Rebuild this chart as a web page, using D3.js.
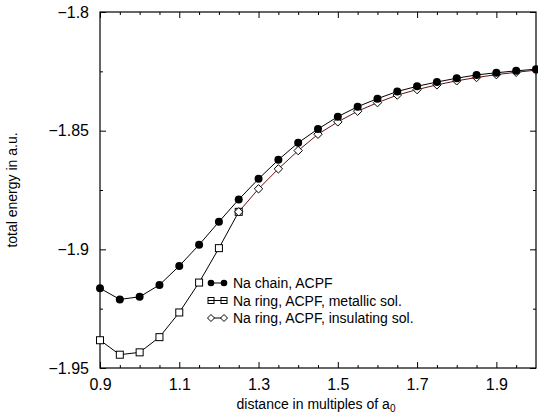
<!DOCTYPE html>
<html><head><meta charset="utf-8">
<script src="https://cdn.jsdelivr.net/npm/d3@7"></script>
<style>body{margin:0;background:#fff}svg{display:block;font-family:"Liberation Sans",Arial,sans-serif}</style>
</head><body><svg id="c" width="538" height="416"></svg>
<script>
const distances = [0.9,0.95,1.0,1.05,1.1,1.15,1.2,1.25,1.3,1.35,1.4,1.45,1.5,1.55,1.6,1.65,1.7,1.75,1.8,1.85,1.9,1.95,2.0];
const chainACPF = [-1.9164,-1.9211,-1.9200,-1.9150,-1.9070,-1.8981,-1.8884,-1.8790,-1.8703,-1.8623,-1.8551,-1.8493,-1.8441,-1.8399,-1.8365,-1.8335,-1.8313,-1.8295,-1.8279,-1.8265,-1.8256,-1.8248,-1.8241];
const metallicDist = [0.9,0.95,1.0,1.05,1.1,1.15,1.2,1.25];
const ringMetallic = [-1.9383,-1.9444,-1.9434,-1.9370,-1.9266,-1.9140,-1.8995,-1.8842];
const insulatingDist = [1.25,1.3,1.35,1.4,1.45,1.5,1.55,1.6,1.65,1.7,1.75,1.8,1.85,1.9,1.95,2.0];
const ringInsulating = [-1.8842,-1.8745,-1.8661,-1.8584,-1.8515,-1.8463,-1.8418,-1.8382,-1.8350,-1.8327,-1.8307,-1.8290,-1.8276,-1.8264,-1.8254,-1.8245];
const xMajor = [0.9,1.1,1.3,1.5,1.7,1.9];
const xMinor = [0.95,1.0,1.05,1.15,1.2,1.25,1.35,1.4,1.45,1.55,1.6,1.65,1.75,1.8,1.85,1.95];
const yMajor = [-1.95,-1.9,-1.85,-1.8];
const yMinor = [-1.925,-1.875,-1.825];
const legendLabels = ["Na chain, ACPF","Na ring, ACPF, metallic sol.","Na ring, ACPF, insulating sol."];

const svg = d3.select("#c");
const L=100,R=536,T=12,B=368;
const x = d3.scaleLinear().domain([0.9,2.0]).range([L,R]);
const y = d3.scaleLinear().domain([-1.95,-1.8]).range([B,T]);
const fmt = v => (v<0?"\u2212":"")+Math.abs(v);

function ax(gen, tr, vals, size, labels){
  const g = svg.append("g").attr("transform",tr)
    .call(gen.tickValues(vals).tickSizeInner(size).tickSizeOuter(0).tickFormat(labels?fmt:()=>"").tickPadding(5));
  g.select(".domain").remove();
  g.selectAll(".tick line").attr("stroke","#000").attr("stroke-width",1);
  g.selectAll("text").attr("font-size",16).attr("fill","#000");
  return g;
}
ax(d3.axisBottom(x),`translate(0,${B})`,xMajor,-6,true).selectAll("text").attr("dy","0.95em").attr("y",7);
ax(d3.axisBottom(x),`translate(0,${B})`,xMinor,-3,false);
ax(d3.axisTop(x),`translate(0,${T})`,xMajor,-6,false);
ax(d3.axisTop(x),`translate(0,${T})`,xMinor,-3,false);
ax(d3.axisLeft(y),`translate(${L},0)`,yMajor,-6,true).selectAll("text").attr("x",-11);
ax(d3.axisLeft(y),`translate(${L},0)`,yMinor,-3,false);
ax(d3.axisRight(y),`translate(${R},0)`,yMajor,-6,false);
ax(d3.axisRight(y),`translate(${R},0)`,yMinor,-3,false);

svg.append("rect").attr("x",L).attr("y",T).attr("width",R-L).attr("height",B-T)
  .attr("fill","none").attr("stroke","#000").attr("stroke-width",1.2);

const line = d3.line().x(d=>x(d[0])).y(d=>y(d[1]));
const chain = distances.map((d,i)=>[d,chainACPF[i]]);
const met = metallicDist.map((d,i)=>[d,ringMetallic[i]]);
const ins = insulatingDist.map((d,i)=>[d,ringInsulating[i]]);

svg.append("path").datum(met).attr("d",line).attr("fill","none").attr("stroke","#000").attr("stroke-width",1);
svg.append("path").datum(ins).attr("d",line).attr("fill","none").attr("stroke","#6b0f0f").attr("stroke-width",1);
svg.append("path").datum(chain).attr("d",line).attr("fill","none").attr("stroke","#000").attr("stroke-width",1);

function square(g,cx,cy,s){g.append("rect").attr("x",cx-s/2).attr("y",cy-s/2).attr("width",s).attr("height",s).attr("fill","#fff").attr("stroke","#000").attr("stroke-width",1);}
function diamond(g,cx,cy,s){g.append("path").attr("d",`M${cx},${cy-s}L${cx+s},${cy}L${cx},${cy+s}L${cx-s},${cy}Z`).attr("fill","#fff").attr("stroke","#000").attr("stroke-width",1);}
function circle(g,cx,cy,r){g.append("circle").attr("cx",cx).attr("cy",cy).attr("r",r).attr("fill","#000");}

const mk = svg.append("g");
met.forEach(d=>square(mk,x(d[0]),y(d[1]),7));
ins.forEach(d=>diamond(mk,x(d[0]),y(d[1]),4.2));
chain.forEach(d=>circle(mk,x(d[0]),y(d[1]),4));

// legend
const lg = svg.append("g");
const rows=[283,300.5,318];
const mx1=211, mx2=224;
rows.forEach((ry,i)=>{
  lg.append("line").attr("x1",mx1).attr("x2",mx2).attr("y1",ry).attr("y2",ry).attr("stroke","#000").attr("stroke-width",1);
  if(i===0){circle(lg,mx1,ry,3.3);circle(lg,mx2,ry,3.3);}
  if(i===1){square(lg,mx1,ry,6);square(lg,mx2,ry,6);lg.append("line").attr("x1",mx1-3).attr("x2",mx2+3).attr("y1",ry).attr("y2",ry).attr("stroke","#000");}
  if(i===2){diamond(lg,mx1,ry,3.5);diamond(lg,mx2,ry,3.5);}
  lg.append("text").attr("x",233).attr("y",ry).attr("dy","0.36em").attr("font-size",14).text(legendLabels[i]);
});

// axis titles
const xt = svg.append("text").attr("x",316).attr("y",409).attr("text-anchor","middle").attr("font-size",14);
xt.append("tspan").text("distance in multiples of a");
xt.append("tspan").attr("font-size",10).attr("dy",3).text("0");
svg.append("text").attr("transform","translate(17,190) rotate(-90)").attr("text-anchor","middle")
  .attr("font-size",14).text("total energy in a.u.");
</script></body></html>
